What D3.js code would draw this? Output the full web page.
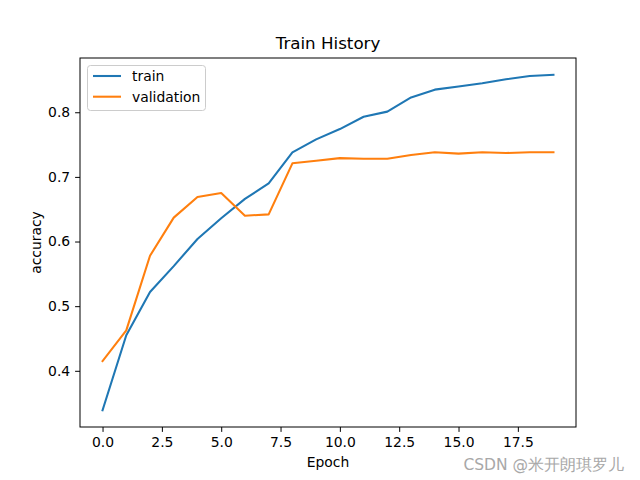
<!DOCTYPE html>
<html><head><meta charset="utf-8">
<script src="https://cdn.jsdelivr.net/npm/d3@7"></script>
<style>body{margin:0;background:#fff}svg{display:block}text{font-family:"DejaVu Sans",sans-serif;fill:#000}</style>
</head><body>
<script>
const epochs = d3.range(20);
const train = [0.339,0.455,0.522,0.562,0.604,0.636,0.666,0.690,0.738,0.758,0.774,0.793,0.801,0.823,0.835,0.840,0.845,0.851,0.856,0.858];
const validation = [0.415,0.4625,0.578,0.637,0.669,0.675,0.640,0.642,0.721,0.725,0.729,0.728,0.728,0.734,0.738,0.736,0.738,0.737,0.738,0.738];
const xTicks = [0,2.5,5,7.5,10,12.5,15,17.5];
const yTicks = [0.4,0.5,0.6,0.7,0.8];
const seriesNames = ["train","validation"];
const colors = ["#1f77b4","#ff7f0e"];

const W=640,H=480, L=80,R=576,T=58,B=427;
const svg=d3.select("body").append("svg").attr("width",W).attr("height",H);
const x=d3.scaleLinear().domain([-0.95,19.95]).range([L,R]);
const ymin=d3.min(train.concat(validation)), ymax=d3.max(train.concat(validation));
const pad=(ymax-ymin)*0.05;
const y=d3.scaleLinear().domain([ymin-pad,ymax+pad]).range([B,T]);

const fs=13.9;
const xa=svg.append("g").attr("transform",`translate(0,${B})`)
 .call(d3.axisBottom(x).tickValues(xTicks).tickFormat(d3.format(".1f")).tickSizeOuter(0).tickSize(4.9).tickPadding(4.9));
const ya=svg.append("g").attr("transform",`translate(${L},0)`)
 .call(d3.axisLeft(y).tickValues(yTicks).tickFormat(d3.format(".1f")).tickSizeOuter(0).tickSize(4.9).tickPadding(4.9));
[xa,ya].forEach(a=>{a.select(".domain").remove();a.selectAll("text").attr("font-size",fs).attr("font-family","DejaVu Sans").attr("fill","#000");a.selectAll("line").attr("stroke","#000").attr("stroke-width",1);});

const line=d3.line().x((d,i)=>x(epochs[i])).y(d=>y(d));
[train,validation].forEach((s,k)=>{
  svg.append("path").datum(s).attr("d",line).attr("fill","none").attr("stroke",colors[k]).attr("stroke-width",2.08).attr("stroke-linejoin","round").attr("stroke-linecap","square");
});

svg.append("rect").attr("x",L).attr("y",T).attr("width",R-L).attr("height",B-T).attr("fill","none").attr("stroke","#000").attr("stroke-width",1);

svg.append("text").attr("x",(L+R)/2).attr("y",T-9).attr("text-anchor","middle").attr("font-size",16.7).text("Train History");
svg.append("text").attr("x",(L+R)/2).attr("y",467).attr("text-anchor","middle").attr("font-size",fs).text("Epoch");
svg.append("text").attr("transform",`translate(41,${(T+B)/2}) rotate(-90)`).attr("text-anchor","middle").attr("font-size",fs).text("accuracy");

// legend
const lg=svg.append("g");
lg.append("rect").attr("x",87.5).attr("y",65.5).attr("width",118).attr("height",45).attr("rx",3)
 .attr("fill","#fff").attr("fill-opacity",0.8).attr("stroke","#cccccc").attr("stroke-width",1);
seriesNames.forEach((n,k)=>{
  const yy=76+k*20.7;
  lg.append("line").attr("x1",93).attr("x2",121).attr("y1",yy).attr("y2",yy).attr("stroke",colors[k]).attr("stroke-width",2.08);
  lg.append("text").attr("x",132).attr("y",yy+5).attr("font-size",fs).text(n);
});

svg.append("text").attr("x",624).attr("y",470).attr("text-anchor","end").attr("font-size",15.5)
 .attr("font-family","Noto Sans CJK SC").style("fill","#a8a8a8").text("CSDN @米开朗琪罗儿");
</script>
</body></html>
